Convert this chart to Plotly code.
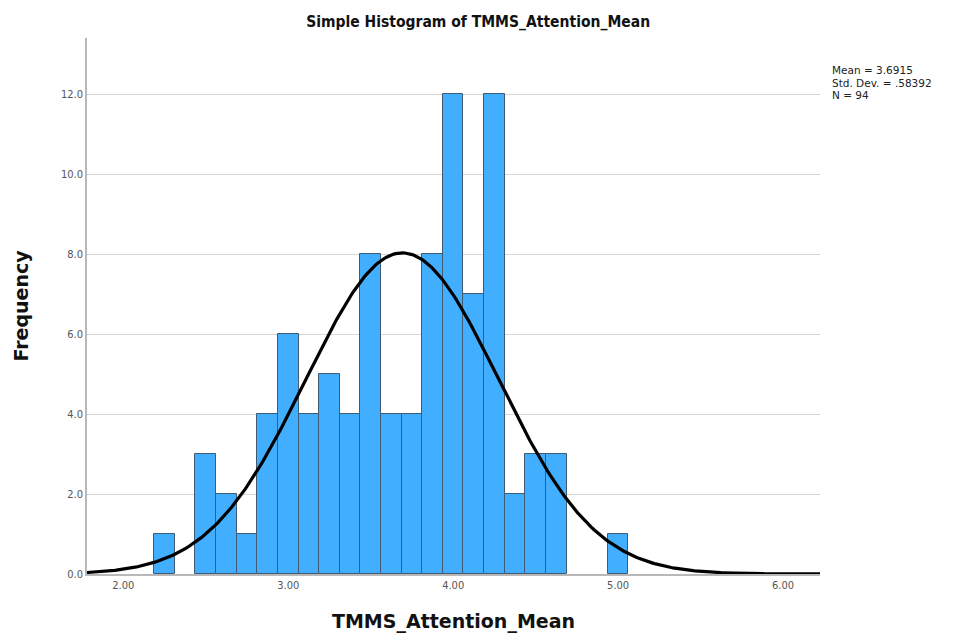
import numpy as np
import plotly.graph_objects as go

# Data
bin_centers = [2.25, 2.375, 2.5, 2.625, 2.75, 2.875, 3.0, 3.125, 3.25, 3.375, 3.5, 3.625,
               3.75, 3.875, 4.0, 4.125, 4.25, 4.375, 4.5, 4.625, 4.75, 4.875, 5.0]
counts = [1, 0, 3, 2, 1, 4, 6, 4, 5, 4, 8, 4, 4, 8, 12, 7, 12, 2, 3, 3, 0, 0, 1]
bin_width = 0.125
mean_val = 3.6915
std_val = 0.58392
n_val = 94
stat_lines = ["Mean = 3.6915", "Std. Dev. = .58392", "N = 94"]
x_ticks = [2.0, 3.0, 4.0, 5.0, 6.0]
x_tick_labels = ["2.00", "3.00", "4.00", "5.00", "6.00"]
y_ticks = [0, 2, 4, 6, 8, 10, 12]
y_tick_labels = ["0.0", "2.0", "4.0", "6.0", "8.0", "10.0", "12.0"]
x_range = [1.78, 6.224]
y_range = [0, 13.4]

bx = [c for c, v in zip(bin_centers, counts) if v > 0]
by = [v for v in counts if v > 0]

# Normal curve from the displayed statistics
xc = np.linspace(x_range[0], x_range[1], 400)
yc = n_val * bin_width * np.exp(-0.5 * ((xc - mean_val) / std_val) ** 2) / (std_val * np.sqrt(2 * np.pi))

fig = go.Figure()
fig.add_trace(go.Bar(
    x=bx, y=by, width=bin_width,
    marker=dict(color="#42AEFF", line=dict(color="#3E5B73", width=1)),
    hoverinfo="x+y", showlegend=False,
))
fig.add_trace(go.Scatter(
    x=xc, y=yc, mode="lines", line=dict(color="black", width=3.2),
    showlegend=False, hoverinfo="skip",
))

fig.update_layout(
    width=964, height=644,
    margin=dict(l=87, r=144, t=38, b=70),
    paper_bgcolor="white", plot_bgcolor="white",
    bargap=0,
    font=dict(family="DejaVu Sans Condensed, DejaVu Sans, sans-serif", color="#333"),
    title=dict(text="<b>Simple Histogram of TMMS_Attention_Mean</b>",
               x=0.496, xref="container", xanchor="center", y=1 - 22 / 644, yref="container", yanchor="middle",
               font=dict(size=15.5, color="#111")),
    xaxis=dict(
        range=x_range, tickmode="array", tickvals=x_ticks, ticktext=x_tick_labels,
        showgrid=False, zeroline=False, showline=True, linecolor="#b8b8b8", linewidth=1.5,
        ticks="", ticklen=0,
        tickfont=dict(size=11, color="#555"),
        title=dict(text="<b>TMMS_Attention_Mean</b>",
                   font=dict(size=19, color="#111", family="DejaVu Sans, sans-serif"), standoff=24),
    ),
    yaxis=dict(
        range=y_range, tickmode="array", tickvals=y_ticks, ticktext=y_tick_labels,
        showgrid=True, gridcolor="#d6d6d6", gridwidth=1.3, zeroline=False,
        showline=True, linecolor="#b8b8b8", linewidth=1.5,
        ticks="", tickfont=dict(size=11, color="#555"),
        title=dict(text="<b>Frequency</b>",
                   font=dict(size=19, color="#111", family="DejaVu Sans, sans-serif"), standoff=27),
    ),
)

plot_top, plot_h = 38, 536
for i, line in enumerate(stat_lines):
    y_px = 70 + 12.5 * i
    fig.add_annotation(
        text=line, xref="paper", yref="paper", x=1.0, y=1 - (y_px - plot_top) / plot_h,
        xshift=10, xanchor="left", yanchor="middle", align="left", showarrow=False,
        font=dict(size=10.5, color="#222", family="DejaVu Sans, sans-serif"),
    )

fig.write_html("out.html")
